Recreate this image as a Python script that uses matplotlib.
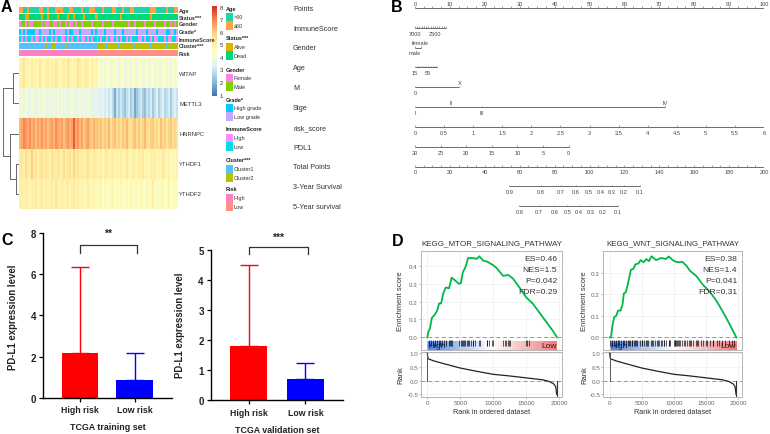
import numpy as np
import matplotlib
matplotlib.use('Agg')
import matplotlib.pyplot as plt
from matplotlib.colors import LinearSegmentedColormap, ListedColormap

plt.rcParams['font.family'] = ['Liberation Sans', 'DejaVu Sans']

# ---- panel A data
track_names = ['Age', 'Status***', 'Gender', 'Grade*', 'ImmuneScore', 'Cluster***', 'Risk']
age_track = '1100100000110010001111000110000100011100' '0010000110001000110000000011100000100011'
status_track = '1110011111101101111011110110111101111100' '1111111111101111111111111101111111111111'
gender_track = '0110100111101001100101101001011011110110' '1101111011111110110111101111011110110101'
grade_track = '0101000011011110101111101001110111110101' '1110111101110111111011110111101111001101'
immune_track = '1010110100101011010110010101101001010110' '1011010010101101011100101101001110100110'
cluster_track = '0000000000000100110000010000000000000000' '1111011111011111110111111101111111011111'
risk_track = '0000000000000000000000000000000000000000' '1111111111111111111111111111111111111111'
tracks = [age_track, status_track, gender_track, grade_track, immune_track, cluster_track, risk_track]
track_colors = [('#1fd3a5', '#ffa23f'), ('#e3b000', '#00d977'), ('#ff80e8', '#7fd000'),
                ('#00ccff', '#c5a8ff'), ('#ff8cff', '#00dce0'), ('#55c0ff', '#b9c000'),
                ('#ff80c0', '#ff9088')]

gene_names = ['WITAP', 'METTL3', 'HNRNPC', 'YTHDF1', 'YTHDF2']
witap = [4.9, 5.1, 5.5, 4.8, 5.0, 4.7, 5.2, 4.9, 5.0, 4.8, 5.4, 4.9, 4.7, 5.0, 5.2, 4.8, 5.1, 4.9, 5.3, 5.0,
         4.7, 4.9, 5.2, 4.8, 5.4, 5.1, 4.7, 4.9, 5.0, 5.5, 5.2, 4.8, 4.9, 5.3, 5.0, 4.7, 5.1, 4.9, 4.8, 5.0,
         4.4, 4.0, 4.3, 3.8, 4.2, 4.4, 3.9, 4.1, 4.5, 4.0, 3.8, 4.2, 4.5, 3.7, 4.0, 4.3, 3.6, 4.4, 4.1, 3.9,
         4.2, 4.5, 3.8, 4.0, 4.3, 3.7, 4.1, 4.4, 3.9, 4.2, 4.0, 3.8, 4.3, 4.5, 3.9, 4.1, 3.8, 4.4, 4.0, 4.2]
mettl3 = [3.9, 4.0, 3.7, 4.2, 3.8, 3.6, 4.1, 3.9, 3.7, 4.0, 3.8, 3.9, 4.2, 3.6, 3.8, 4.0, 3.7, 3.9, 3.6, 4.1,
          3.8, 4.0, 3.7, 3.9, 3.6, 3.8, 4.2, 3.9, 3.7, 3.8, 4.0, 3.6, 3.9, 3.7, 4.1, 3.8, 3.6, 3.5, 3.7, 3.5,
          3.4, 3.3, 3.5, 3.2, 3.4, 3.1, 3.3, 2.8, 1.9, 3.0, 2.6, 3.1, 2.7, 2.3, 2.9, 3.2, 2.5, 2.9, 1.8, 2.4,
          2.8, 3.1, 2.5, 2.2, 3.0, 2.7, 3.2, 2.4, 2.9, 3.3, 2.6, 3.0, 3.4, 2.7, 2.9, 3.2, 2.5, 3.1, 3.3, 3.0]
hnrnpc = [6.2, 6.5, 6.9, 6.7, 6.4, 6.8, 6.3, 6.6, 6.1, 6.5, 6.3, 6.7, 6.2, 6.5, 6.1, 6.4, 6.6, 6.2, 6.8, 6.5,
          6.3, 6.6, 6.1, 6.4, 6.7, 6.3, 6.5, 7.4, 6.4, 6.7, 6.2, 6.5, 6.0, 6.3, 6.6, 6.1, 5.9, 6.3, 6.0, 6.2,
          5.9, 6.1, 5.7, 6.0, 5.8, 6.2, 5.6, 5.9, 6.1, 5.7, 5.9, 5.6, 6.0, 5.8, 6.2, 5.7, 5.5, 5.9, 6.1, 5.7,
          6.0, 5.6, 5.8, 6.2, 5.7, 5.5, 5.9, 6.0, 5.6, 5.8, 5.5, 6.1, 5.7, 5.9, 5.4, 5.8, 6.0, 5.6, 5.8, 5.5]
ythdf1 = [5.2, 5.4, 5.0, 5.6, 5.3, 5.1, 5.9, 5.2, 5.5, 5.0, 5.3, 5.6, 5.1, 5.4, 5.2, 5.0, 5.5, 5.3, 5.1, 5.4,
          5.2, 5.0, 5.7, 5.1, 5.3, 5.5, 5.0, 5.8, 5.2, 5.4, 5.1, 5.3, 5.0, 5.2, 5.5, 5.1, 5.0, 5.3, 5.1, 4.9,
          5.0, 5.2, 4.8, 5.1, 5.3, 4.9, 5.0, 5.2, 4.7, 5.1, 4.9, 5.2, 4.8, 5.0, 5.3, 4.9, 4.7, 5.1, 5.0, 4.8,
          5.2, 4.9, 5.4, 4.8, 5.0, 4.7, 5.1, 4.9, 5.2, 4.7, 5.0, 4.8, 5.3, 4.9, 4.7, 5.0, 4.6, 4.8, 4.7, 5.0]
ythdf2 = [5.0, 5.1, 4.9, 5.2, 5.0, 4.8, 5.1, 5.0, 5.3, 4.9, 5.0, 5.2, 4.8, 5.1, 4.9, 5.0, 5.2, 4.9, 5.4, 5.0,
          4.8, 5.1, 4.9, 5.0, 5.2, 4.8, 5.0, 5.3, 4.9, 5.1, 4.8, 5.0, 4.7, 4.9, 5.1, 4.8, 4.7, 5.0, 4.6, 4.8,
          4.7, 4.9, 4.5, 4.8, 4.6, 4.3, 4.7, 4.9, 4.5, 4.7, 4.4, 4.8, 4.6, 4.3, 4.7, 4.5, 4.8, 4.6, 4.2, 4.7,
          4.5, 4.9, 4.6, 4.4, 4.8, 4.3, 4.6, 5.2, 4.5, 4.7, 4.2, 4.6, 4.8, 4.4, 4.6, 4.9, 4.5, 4.3, 4.7, 4.6]
heat_values = np.array([witap, mettl3, hnrnpc, ythdf1, ythdf2])
heat_colors = ['#4575b4', '#91bfdb', '#e0f3f8', '#ffffbf', '#fee090', '#fc8d59', '#d73027']

legend_groups = [('Age', ['>60', '≤60']), ('Status***', ['Alive', 'Dead']), ('Gender', ['Female', 'Male']),
                 ('Grade*', ['High grade', 'Low grade']), ('ImmuneScore', ['High', 'Low']),
                 ('Cluster***', ['Cluster1', 'Cluster2']), ('Risk', ['High', 'Low'])]

# ---- panel B data
row_names = ['Points', 'ImmuneScore', 'Gender', 'Age', 'M', 'Stge', 'risk_score', 'PDL1',
             'Total Points', '3-Year Survival', '5-Year survival']
points_labels = list(range(0, 101, 10))
immune_pts = [0.0, 5.6]
immune_labels = ['7000', '2500']
gender_pts = [0.0, 1.6]
age_pts = [0.0, 3.65]
m_pts = [0.0, 12.7]
stage_pts = [0.0, 10.4, 19.2, 71.7]
stage_labels = ['I', 'II', 'III', 'IV']
risk_labels = ['0', '0.5', '1', '1.5', '2', '2.5', '3', '3.5', '4', '4.5', '5', '5.5', '6']
pdl1_labels = [30, 25, 20, 15, 10, 5, 0]
pdl1_end = 44.0
total_labels = list(range(0, 201, 20))
surv3_total = [54.0, 72.2, 83.5, 92.1, 99.7, 106.4, 112.9, 119.8, 128.8]
surv3_labels = ['0.9', '0.8', '0.7', '0.6', '0.5', '0.4', '0.3', '0.2', '0.1']
surv5_total = [59.8, 71.0, 79.9, 87.3, 94.0, 100.5, 107.3, 116.2]
surv5_labels = ['0.8', '0.7', '0.6', '0.5', '0.4', '0.3', '0.2', '0.1']

# ---- panel C data
groups = ['High risk', 'Low risk']
train_mean = [2.15, 0.85]
train_sd = [4.2, 1.3]
valid_mean = [1.8, 0.72]
valid_sd = [2.7, 0.51]

# ---- panel D data
mtor_rank = [0, 150, 400, 700, 1100, 1500, 1800, 2100, 2400, 2800, 3300, 3700, 4200, 4800, 5100, 5400, 5800,
             6200, 7000, 7500, 7900, 8500, 9100, 10000, 10500, 11500, 12300, 13000, 14000, 15000, 16000,
             17000, 18000, 19000, 19700]
mtor_es = [0.0, 0.03, 0.05, 0.11, 0.125, 0.15, 0.19, 0.19, 0.245, 0.28, 0.275, 0.335, 0.32, 0.30, 0.305, 0.365,
           0.395, 0.445, 0.445, 0.44, 0.455, 0.43, 0.425, 0.405, 0.39, 0.345, 0.35, 0.33, 0.28, 0.225, 0.19,
           0.14, 0.09, 0.04, 0.0]
mtor_hits = [300, 600, 900, 1200, 1500, 1800, 2000, 2300, 2500, 2800, 3300, 3500, 3600, 3700, 4800, 5100, 5200,
             5400, 5600, 5800, 6000, 6200, 6300, 6600, 6900, 7000, 7300, 7800, 8000, 9000, 9100, 9300, 9900,
             10000, 11500, 11800, 12000, 12200, 12400, 12500, 15000, 15200, 15500]
wnt_rank = [0, 200, 400, 700, 1000, 1300, 1700, 2000, 2200, 2500, 2800, 3300, 3700, 4000, 4500, 4800, 5300, 5700,
            6100, 6500, 7200, 8000, 8700, 9200, 9800, 10200, 10800, 11300, 11900, 12500, 13500, 14500, 15500,
            16500, 17500, 18500, 19700]
wnt_es = [0.0, 0.0, 0.05, 0.095, 0.1, 0.125, 0.125, 0.155, 0.205, 0.21, 0.245, 0.315, 0.32, 0.34, 0.345, 0.36,
          0.35, 0.365, 0.355, 0.378, 0.36, 0.37, 0.365, 0.377, 0.36, 0.353, 0.35, 0.352, 0.335, 0.31, 0.285,
          0.245, 0.215, 0.175, 0.125, 0.07, 0.0]
wnt_hits = [100, 400, 700, 1000, 1300, 1500, 1800, 2000, 2300, 2500, 2800, 3000, 3200, 3400, 3500, 3800, 4000,
            4100, 4300, 4700, 5000, 5100, 5300, 5700, 5800, 6000, 6500, 6600, 6800, 7100, 7300, 7500, 7600, 8000,
            8200, 8400, 8500, 8700, 9200, 9300, 9400, 10000, 10100, 10200, 10300, 10400, 10600, 10800, 11000,
            11300, 11600, 11700, 12000, 12300, 12500, 12700, 13000, 13400, 13500, 13800, 14200, 14500, 15000,
            15100, 15600, 16000, 16100, 16700, 17000, 17500, 18000, 18600, 19000, 19400]
rank_x = [0, 100, 1000, 2500, 5000, 7500, 10000, 12500, 15000, 17500, 18500, 19200, 19500, 19650]
rank_y = [1.0, 0.8, 0.72, 0.62, 0.46, 0.34, 0.23, 0.17, 0.10, 0.03, -0.03, -0.12, -0.22, -0.5]

W, H = 770, 435
fig = plt.figure(figsize=(W / 100, H / 100), dpi=100)


def px_axes(left, top, right, bottom):
    return fig.add_axes([left / W, 1 - bottom / H, (right - left) / W, (bottom - top) / H])


bg = px_axes(0, 0, W, H)
bg.set_xlim(0, W)
bg.set_ylim(H, 0)
bg.axis('off')

for letter, x, y in [('A', 6, 8), ('B', 397, 8), ('C', 7, 241), ('D', 398, 242)]:
    bg.text(x, y, letter, fontsize=11.5, fontweight='bold', ha='center', va='center')

# ---- A: annotation tracks
track_tops = [8, 15, 22, 29.5, 37, 44, 51]
for name, track, cols, top in zip(track_names, tracks, track_colors, track_tops):
    ax = px_axes(18.5, top, 177, top + 6)
    ax.imshow([[int(c) for c in track]], aspect='auto', cmap=ListedColormap(cols), vmin=0, vmax=1,
              interpolation='nearest')
    ax.axis('off')
    bg.text(179, top + 3, name, fontsize=4.0, fontweight='bold', color='#333333', va='center')

# ---- A: heatmap
cmap = LinearSegmentedColormap.from_list('rdylbu', heat_colors)
ax = px_axes(18.5, 59, 177, 210)
ax.imshow(heat_values, aspect='auto', cmap=cmap, vmin=1, vmax=8, interpolation='nearest')
ax.axis('off')
for i, gene in enumerate(gene_names):
    bg.text(179, 59 + 30.2 * (i + 0.5), gene, fontsize=4.2, color='#333333', va='center')

# ---- A: dendrogram (x = height, y = row index)
den = px_axes(1, 59, 19, 210)
den.set_xlim(1, 19)
den.set_ylim(4.5, -0.5)
den.axis('off')
h_mt, h_f12, h_low, h_root = 12.7, 15.7, 10.3, 2.7
y_mt = 0.5
y_f12 = 3.5
y_low = (2 + y_f12) / 2
for xs, ys in [([18, h_mt, h_mt, 18], [0, 0, 1, 1]),
               ([18, h_f12, h_f12, 18], [3, 3, 4, 4]),
               ([18, h_low, h_low, h_f12], [2, 2, y_f12, y_f12]),
               ([h_mt, h_root, h_root, h_low], [y_mt, y_mt, y_low, y_low])]:
    den.plot(xs, ys, color='#666666', lw=0.7)

# ---- A: colour bar and legends
cb = px_axes(212, 7, 217, 97)
cb.imshow(np.linspace(8, 1, 100)[:, None], aspect='auto', cmap=cmap, vmin=1, vmax=8)
cb.axis('off')
for v in range(1, 9):
    bg.text(219.5, 96 - (v - 1) * 12.57, str(v), fontsize=4.2, color='#333333', va='center')

group_title_y = [9, 39, 70, 100, 130, 161, 190]
for (title, labels), cols, ty in zip(legend_groups, track_colors, group_title_y):
    bg.text(226, ty, title, fontsize=4.0, fontweight='bold', color='#222222', va='center')
    for j, (lab, col) in enumerate(zip(labels, cols)):
        y0 = ty + 4.7 + j * 8.7
        bg.fill_between([226, 232.5], y0, y0 + 8.4, color=col, lw=0)
        bg.text(234, y0 + 4.2, lab, fontsize=4.0, color='#333333', va='center')

# ---- B: nomogram, x axis is the points scale
nom = px_axes(415, 0, 764, 215)
nom.set_xlim(0, 100)
nom.set_ylim(215, 0)
nom.axis('off')
nom.patch.set_alpha(0)
line_col = '#555555'
text_col = '#444444'
row_y = [9 + 19.83 * r for r in range(len(row_names))]
for name, y in zip(row_names, row_y):
    bg.text(293, y + 0.3, name, fontsize=5.2, color='#333333', va='center')


def scale(row, ticks, labels=None, label_at=None, above=False, alternate=False, tick=1.6):
    y = row_y[row]
    nom.plot([min(ticks), max(ticks)], [y, y], color=line_col, lw=0.6, solid_capstyle='butt')
    nom.vlines(ticks, y - tick, y, color=line_col, lw=0.4)
    if labels is None:
        return
    for k, (p, lab) in enumerate(zip(label_at, labels)):
        up = above
        if alternate:
            up = k % 2 == 1
        if up:
            nom.text(p, y - 4.8, lab, fontsize=4.1, color=text_col, ha='center', va='center')
        else:
            nom.text(p, y + 5.3, lab, fontsize=4.1, color=text_col, ha='center', va='center')


scale(0, np.arange(0, 100.1, 2.5), [str(v) for v in points_labels], points_labels, above=True, tick=1.6)
scale(1, np.linspace(0, 8.9, 15), immune_labels, immune_pts)
scale(2, gender_pts, ['male', 'female'], gender_pts, alternate=True)
scale(3, np.linspace(0, 6.4, 15), ['15', '55'], age_pts)
scale(4, m_pts, ['0', 'X'], m_pts, alternate=True)
scale(5, stage_pts, stage_labels, stage_pts, alternate=True)
scale(6, np.linspace(0, 100, 13), risk_labels, np.linspace(0, 100, 13))
scale(7, np.linspace(0, pdl1_end, 7), [str(v) for v in pdl1_labels], np.linspace(0, pdl1_end, 7))
scale(8, np.arange(0, 100.1, 2.5), [str(v) for v in total_labels], [v / 2 for v in total_labels])
scale(9, [v / 2 for v in surv3_total], surv3_labels, [v / 2 for v in surv3_total])
scale(10, [v / 2 for v in surv5_total], surv5_labels, [v / 2 for v in surv5_total])


# ---- C: bar charts
def bar_panel(rect, means, sds, ymax, yticks, xlabel, ylab_x, xlim, width, bracket, stars):
    ax = px_axes(*rect)
    x = [0, 1]
    cols = ['#ff0000', '#0000ff']
    ax.bar(x, means, width=width, color=cols, zorder=2)
    for xi, m, s, c in zip(x, means, sds, cols):
        ax.errorbar(xi, m, yerr=[[0], [s]], color=c, capsize=6.6, capthick=1.0, elinewidth=1.0, zorder=1)
    ax.set_xlim(xlim)
    ax.set_ylim(0, ymax)
    ax.set_xticks(x)
    ax.set_xticklabels(groups, fontsize=6.3, fontweight='bold', color='#222222')
    ax.set_yticks(yticks)
    ax.set_yticklabels([str(v) for v in yticks], fontsize=7, fontweight='bold', color='#222222')
    ax.tick_params(length=3.2, width=0.9, pad=2)
    for side in ['top', 'right']:
        ax.spines[side].set_visible(False)
    for side in ['left', 'bottom']:
        ax.spines[side].set_linewidth(1.0)
    ax.patch.set_alpha(0)
    ax.set_xlabel(xlabel, fontsize=6.4, fontweight='bold', color='#222222', labelpad=6)
    bg.text(ylab_x, bracket['ylab_y'], 'PD-L1 expression level', fontsize=6.9,
            fontweight='bold', rotation=90, ha='center', va='center', color='#222222')
    bx0, bx1, by, drop = bracket['x0'], bracket['x1'], bracket['y'], bracket['drop']
    ax.plot([bx0, bx0, bx1, bx1], [by - drop, by, by, by - drop], color='#333333', lw=0.9, clip_on=False)
    ax.text((bx0 + bx1) / 2, bracket['star_y'], stars, fontsize=7.5, fontweight='bold', ha='center',
            va='center', clip_on=False, color='#222222')


bar_panel((43.3, 234.2, 171.7, 398.7), train_mean, train_sd, 8, [0, 2, 4, 6, 8], 'TCGA training set', 13.5,
          (-0.669, 1.68), 0.664, dict(x0=0, x1=1.046, y=7.44, drop=0.4, star_y=8.0, ylab_y=317), '**')
bar_panel((211, 250.7, 343.3, 401.3), valid_mean, valid_sd, 5, [0, 1, 2, 3, 4, 5], 'TCGA validation set', 180,
          (-0.664, 1.669), 0.658, dict(x0=0, x1=1.047, y=5.08, drop=0.22, star_y=5.42, ylab_y=325), '***')
grad_cmap = LinearSegmentedColormap.from_list('hl', ['#4f86e6', '#ffffff', '#f27a7a'])


# ---- D: enrichment panels
def gsea_panel(left, right, title, rank, es, hits, notes, xlim, top_ylim, ticks, title_x, ylab_x, title_size):
    top = px_axes(left, 252.3, right, 350.7)
    top.plot(rank, es, color='#00b84a', lw=1.3, zorder=3)
    top.axhline(0, color='#999999', lw=0.7, ls=(0, (4, 3)), zorder=2)
    top.imshow(np.linspace(0, 1, 200)[None, :], extent=(0, 19700, 0, 0.09), aspect='auto', cmap=grad_cmap,
               transform=top.get_xaxis_transform(), zorder=1)
    top.vlines(hits, 0.04, 0.097, color='#000000', lw=0.6, alpha=0.75, transform=top.get_xaxis_transform(),
               zorder=2)
    top.text(100, 0.045, 'High', fontsize=6, color='#0a1a55', va='center', transform=top.get_xaxis_transform(),
             zorder=4)
    top.text(19650, 0.045, 'Low', fontsize=6, color='#4a1010', va='center', ha='right',
             transform=top.get_xaxis_transform(), zorder=4)
    top.set_xlim(xlim)
    top.set_ylim(top_ylim)
    top.set_xticks([0, 5000, 10000, 15000, 20000])
    top.set_yticks(ticks)
    top.tick_params(axis='x', length=0, labelbottom=False)
    top.tick_params(axis='y', length=1.2, width=0.4, labelsize=4.5, labelcolor='#666666', color='#888888', pad=1)
    bot = px_axes(left, 352.7, right, 398.3)
    bot.plot(rank_x, rank_y, color='#222222', lw=0.9, zorder=3)
    bot.plot([0, 0], [0, 1], color='#555555', lw=0.7, zorder=3)
    bot.plot([19680, 19680], [0, -0.55], color='#333333', lw=0.8, zorder=3)
    bot.axhline(0, color='#999999', lw=0.7, ls=(0, (4, 3)), zorder=2)
    bot.set_xlim(xlim)
    bot.set_ylim(-0.611, 1.057)
    bot.set_xticks([0, 5000, 10000, 15000, 20000])
    bot.set_xticklabels(['0', '5000', '10000', '15000', '20000'])
    bot.set_yticks([-0.5, 0, 0.5, 1.0])
    bot.set_yticklabels(['-0.5', '0.0', '0.5', '1.0'])
    bot.tick_params(length=1.2, width=0.4, labelsize=4.5, labelcolor='#666666', color='#888888', pad=0.6)
    for a in (top, bot):
        a.grid(True, color='#ebebeb', lw=0.4, zorder=0)
        for s in a.spines.values():
            s.set_color('#b5b5b5')
            s.set_linewidth(0.7)
    bg.text(title_x, 244, title, fontsize=title_size, color='#333333', ha='center', va='center')
    for txt, y in zip(notes, [260, 270.7, 281.7, 292.3]):
        bg.text(right - 4.6, y, txt, fontsize=6.1, color='#333333', ha='right', va='center', zorder=10)
    bg.text((left + right) / 2 + 0.5, 412.3, 'Rank in ordered dataset', fontsize=5.2, color='#333333', ha='center',
            va='center')
    bg.text(ylab_x, 301, 'Enrichment score', fontsize=5.5, color='#333333', rotation=90, ha='center', va='center')
    bg.text(ylab_x, 375, 'Rank', fontsize=5.5, color='#333333', rotation=90, ha='center', va='center')
    bg.set_zorder(5)


gsea_panel(421, 561.7, 'KEGG_MTOR_SIGNALING_PATHWAY', mtor_rank, mtor_es, mtor_hits,
           ['ES=0.46', 'NES=1.5', 'P=0.042', 'FDR=0.29'], (-957, 20410), (-0.0697, 0.483),
           [0, 0.1, 0.2, 0.3, 0.4], 492, 401, 5.8)
gsea_panel(603, 741.7, 'KEGG_WNT_SIGNALING_PATHWAY', wnt_rank, wnt_es, wnt_hits,
           ['ES=0.38', 'NES=1.4', 'P=0.041', 'FDR=0.31'], (-1042, 20529), (-0.057, 0.401),
           [0, 0.1, 0.2, 0.3], 672.5, 584.5, 5.7)

fig.savefig('out.png', dpi=100)
